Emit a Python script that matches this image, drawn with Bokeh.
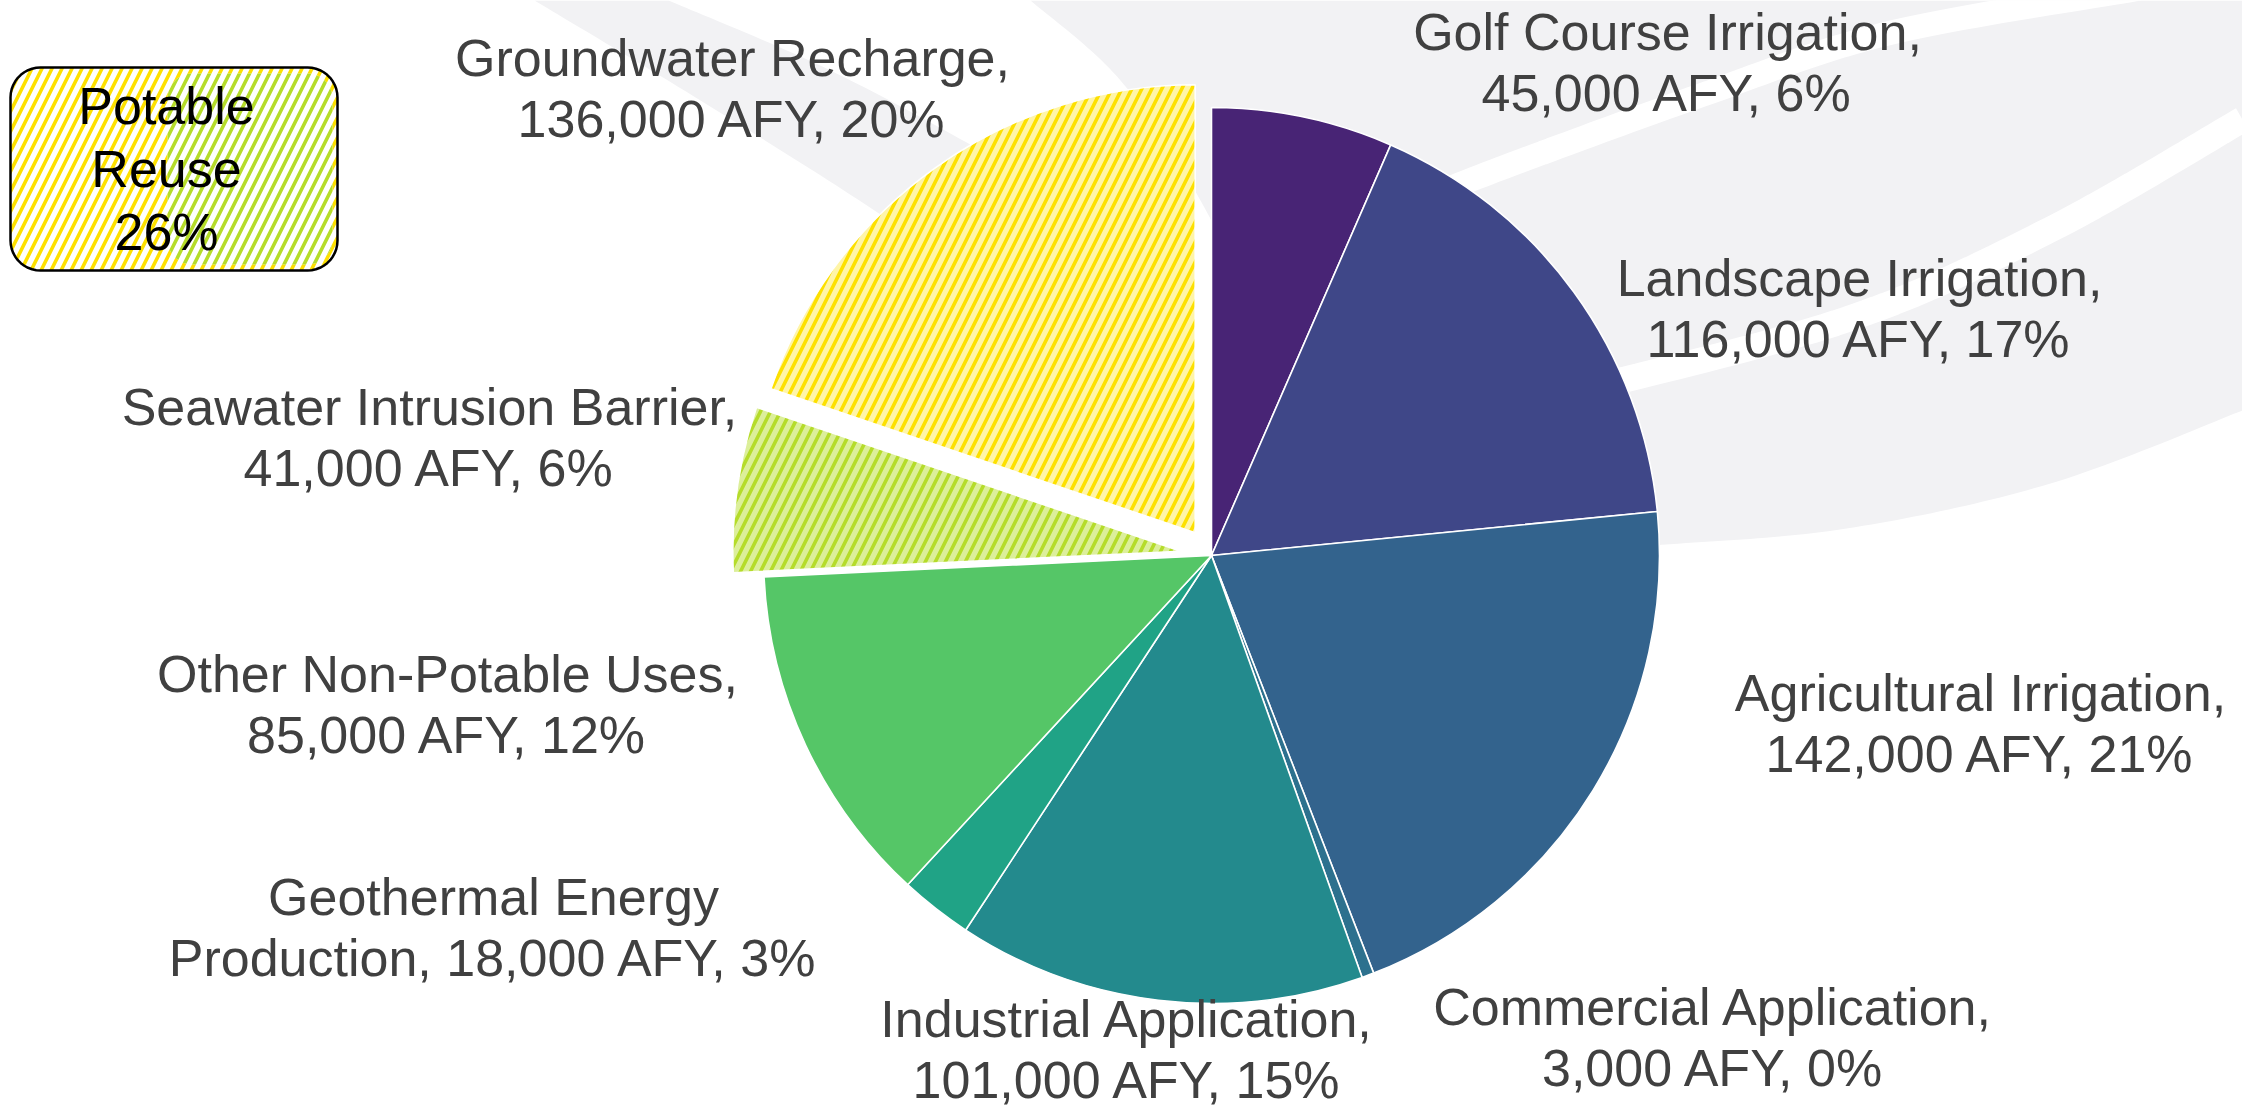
import numpy as np
from bokeh.plotting import figure
from bokeh.models import Range1d
from bokeh.embed import file_html
from bokeh.resources import INLINE
from bokeh.core.properties import value

# ---------------- data ----------------
categories = ["Golf Course Irrigation", "Landscape Irrigation", "Agricultural Irrigation",
              "Commercial Application", "Industrial Application", "Geothermal Energy Production",
              "Other Non-Potable Uses", "Seawater Intrusion Barrier", "Groundwater Recharge"]
afy = [45000, 116000, 142000, 3000, 101000, 18000, 85000, 41000, 136000]
pct_labels = ["6%", "17%", "21%", "0%", "15%", "3%", "12%", "6%", "20%"]
potable_label = ["Potable", "Reuse", "26%"]

# ---------------- style ----------------
colors = ["#482475", "#3F4788", "#33638D", "#2D718E", "#238A8D", "#20A386", "#55C667",
          "#DCEF9A", "#FFF5A8"]
hatch_colors = [None] * 7 + ["#B5DC2A", "#FDE000"]
explode = [0, 0, 0, 0, 0, 0, 0, 31, 28]
# label placement (center x, first baseline y) in page pixels
label_pos = [(1667, 48), (1859, 294), (1980, 709), (1713, 1023), (1127, 1035),
             (493, 913), (447, 690), (429, 423), (732, 74)]
line_gap = 61
TXT_SHIFT = -17
FONT = "Liberation Sans"
FS = "52px"
TXT = "#404040"
BG = "#F2F2F4"
HS, HW = 20, 3.6

CX, CY, R = 1211, 555, 448
W, H = 2242, 1108


def Y(py):
    return -py


p = figure(width=W, height=H, x_range=Range1d(0, W), y_range=Range1d(-H, 0),
           output_backend="svg", toolbar_location=None, x_axis_type=None, y_axis_type=None,
           min_border=0, outline_line_color=None)
p.grid.visible = False
p.background_fill_color = "white"
p.border_fill_color = "white"


# ---------------- decorative background swoosh ----------------
def catmull(pts, n=24):
    pts = np.asarray(pts, float)
    P = np.vstack([pts[0], pts, pts[-1]])
    out = []
    for i in range(1, len(P) - 2):
        p0, p1, p2, p3 = P[i - 1], P[i], P[i + 1], P[i + 2]
        for t in np.linspace(0, 1, n, endpoint=False):
            t2, t3 = t * t, t * t * t
            out.append(0.5 * ((2 * p1) + (-p0 + p2) * t + (2 * p0 - 5 * p1 + 4 * p2 - p3) * t2
                              + (-p0 + 3 * p1 - 3 * p2 + p3) * t3))
    out.append(pts[-1])
    return np.array(out)


band_lo = catmull([(534, 0), (700, 100), (880, 214), (1060, 340)])
band_hi = catmull([(1150, 250), (1000, 161), (830, 70), (668, 0)])
band = np.vstack([band_lo, band_hi])
p.patch(band[:, 0], Y(band[:, 1]), fill_color=BG, line_color=None)

right_low = catmull([(2242, 410), (2050, 483), (1846, 528), (1653, 545), (1450, 560)])
right_left = catmull([(1300, 400), (1200, 200), (1120, 80), (1030, 0)])
big = np.vstack([[(2242, 0)], right_low, right_left, [(1030, 0)]])
p.patch(big[:, 0], Y(big[:, 1]), fill_color=BG, line_color=None)

s1 = catmull([(1560, 395), (1846, 319), (2050, 229), (2242, 119)])
p.line(s1[:, 0], Y(s1[:, 1]), line_color="white", line_width=26)
s2 = catmull([(1420, 200), (1500, 168), (1700, 95), (1887, 33), (2140, -12)])
p.line(s2[:, 0], Y(s2[:, 1]), line_color="white", line_width=24)

# ---------------- pie ----------------
total = float(sum(afy))
cum = np.concatenate([[0.0], np.cumsum(afy)]) / total * 2 * np.pi  # clockwise from 12 o'clock
for i, cat in enumerate(categories):
    a0, a1 = cum[i], cum[i + 1]
    mid = 0.5 * (a0 + a1)
    cx = CX + explode[i] * np.sin(mid)
    cy = Y(CY) + explode[i] * np.cos(mid)
    kw = dict(x=[cx], y=[cy], radius=R, start_angle=np.pi / 2 - a1, end_angle=np.pi / 2 - a0,
              fill_color=colors[i], line_color="white", line_width=1.6)
    if hatch_colors[i]:
        kw.update(hatch_pattern="/", hatch_color=hatch_colors[i], hatch_scale=HS, hatch_weight=HW)
    p.wedge(**kw)

# ---------------- labels ----------------
for i, cat in enumerate(categories):
    val = f"{afy[i]:,} AFY, {pct_labels[i]}"
    if cat == "Geothermal Energy Production":
        l1, l2 = "Geothermal Energy", f"Production, {val}"
    else:
        l1, l2 = f"{cat},", val
    x, y = label_pos[i]
    y += TXT_SHIFT
    p.text(x=[x, x], y=[Y(y), Y(y + line_gap)], text=[l1, l2], text_font=value(FONT),
           text_font_size=FS, text_color=TXT, text_align="center", text_baseline="alphabetic")


# ---------------- potable reuse box ----------------
def rrect(x0, y0, x1, y1, r, n=12):
    pts = []
    for (cx, cy, a0) in [(x1 - r, y0 + r, -90), (x1 - r, y1 - r, 0), (x0 + r, y1 - r, 90),
                         (x0 + r, y0 + r, 180)]:
        for a in np.linspace(a0, a0 + 90, n):
            pts.append((cx + r * np.cos(np.radians(a)), cy + r * np.sin(np.radians(a))))
    return np.array(pts)


box = rrect(10, 67, 337, 270, 30)
p.patch(box[:, 0], Y(box[:, 1]), fill_color="white", line_color=None,
        hatch_pattern="/", hatch_color="#FDE000", hatch_scale=HS, hatch_weight=HW)
gbox = rrect(167, 73, 332, 264, 25)
p.patch(gbox[:, 0], Y(gbox[:, 1]), fill_color="white", line_color=None,
        hatch_pattern="/", hatch_color="#B5DC2A", hatch_scale=HS, hatch_weight=HW)
p.patch(box[:, 0], Y(box[:, 1]), fill_color=None, line_color="black", line_width=2.5)
p.text(x=[166] * 3, y=[Y(122 + TXT_SHIFT), Y(185 + TXT_SHIFT), Y(248 + TXT_SHIFT)],
       text=potable_label, text_font=value(FONT),
       text_font_size=FS, text_color="black", text_align="center", text_baseline="alphabetic")

open("out.html", "w").write(file_html(p, INLINE))
